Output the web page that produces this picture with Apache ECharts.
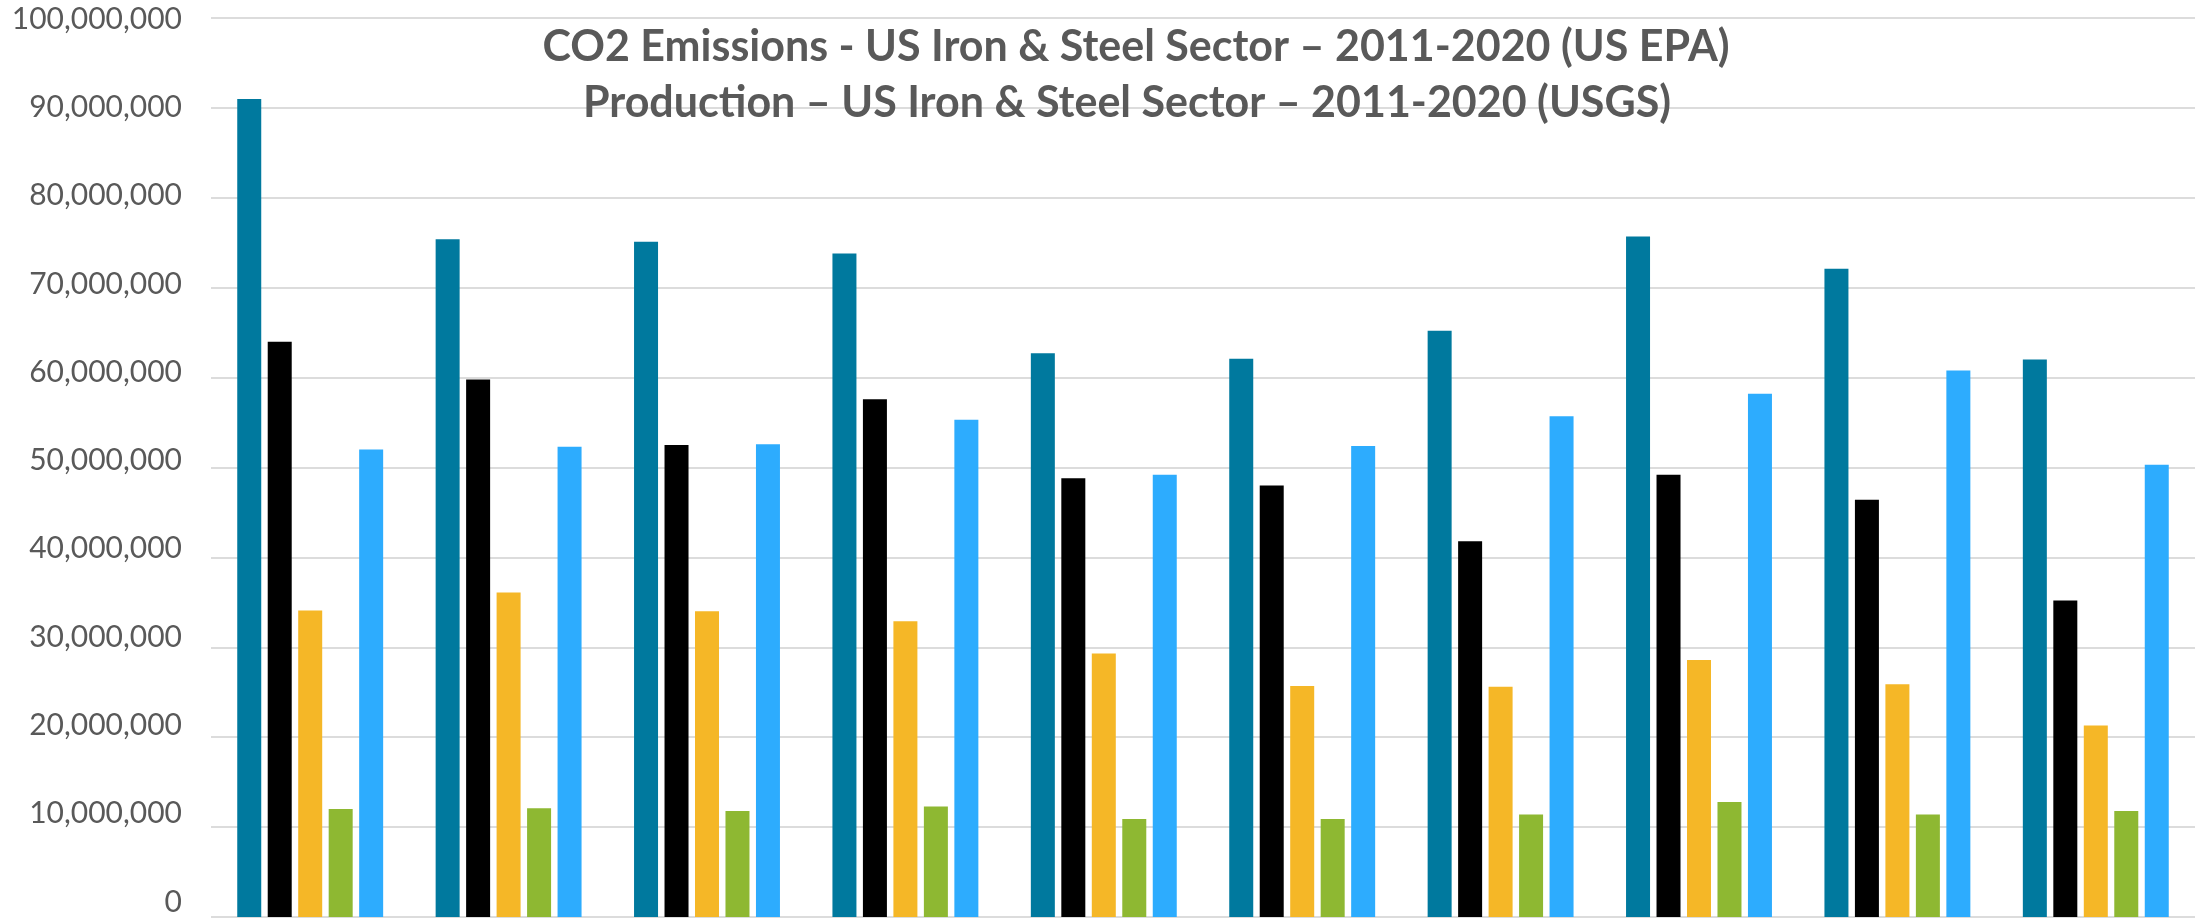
<!DOCTYPE html>
<html>
<head>
<meta charset="UTF-8">
<title>CO2 Emissions - US Iron & Steel</title>
<script src="https://cdn.jsdelivr.net/npm/echarts@6/dist/echarts.min.js"></script>
<style>
  html, body { margin: 0; padding: 0; background: #fff; }
  #chart { width: 2195px; height: 918px; }
</style>
</head>
<body>
<div id="chart"></div>
<script>
// data
var years = ['2011', '2012', '2013', '2014', '2015', '2016', '2017', '2018', '2019', '2020'];
var series1 = [91.0, 75.4, 75.1, 73.8, 62.7, 62.1, 65.2, 75.7, 72.1, 62.0];  // teal
var series2 = [64.0, 59.8, 52.5, 57.6, 48.8, 48.0, 41.8, 49.2, 46.4, 35.2];  // black
var series3 = [34.1, 36.1, 34.0, 32.9, 29.3, 25.7, 25.6, 28.6, 25.9, 21.3];  // orange
var series4 = [12.0, 12.1, 11.8, 12.3, 10.9, 10.9, 11.4, 12.8, 11.4, 11.8];  // green
var series5 = [52.0, 52.3, 52.6, 55.3, 49.2, 52.4, 55.7, 58.2, 60.8, 50.3];  // light blue
var titleLines = [
    'CO2 Emissions - US Iron & Steel Sector \u2013 2011-2020 (US EPA)',
    'Production \u2013 US Iron & Steel Sector \u2013 2011-2020 (USGS)'
];

function mil(arr) {
    return arr.map(function (v) { return Math.round(v * 1000000); });
}

var colors = ['#00799e', '#000000', '#f5b727', '#8eb832', '#2dacfe'];
var names = ['Series 1', 'Series 2', 'Series 3', 'Series 4', 'Series 5'];
var values = [series1, series2, series3, series4, series5];

var chart = echarts.init(document.getElementById('chart'));

var seriesList = [];
for (var i = 0; i < values.length; i++) {
    seriesList.push({
        name: names[i],
        type: 'bar',
        xAxisIndex: 0,
        yAxisIndex: 0,
        barWidth: 24,
        barGap: '27%',
        itemStyle: { color: colors[i] },
        data: mil(values[i])
    });
}

var option = {
    animation: false,
    backgroundColor: '#fff',
    title: [{
        text: titleLines[0],
        left: 1131,
        top: 21,
        textAlign: 'center',
        textStyle: { fontFamily: 'Lato', fontWeight: 'bold', fontSize: 43, color: '#595959' }
    }, {
        text: titleLines[1],
        left: 1122,
        top: 77,
        textAlign: 'center',
        textStyle: { fontFamily: 'Lato', fontWeight: 'bold', fontSize: 43, color: '#595959' }
    }],
    grid: [
        { left: 211, right: 0, top: 18, bottom: 1 },
        // label-only grid, the labels sit a bit off the gridlines in the original
        { left: 211, right: 0, top: 19, bottom: 16 }
    ],
    xAxis: [{
        type: 'category',
        gridIndex: 0,
        data: years,
        axisLine: { show: false },
        axisTick: { show: false },
        axisLabel: { show: false }
    }, {
        type: 'category',
        gridIndex: 1,
        data: years,
        show: false
    }],
    yAxis: [{
        type: 'value',
        gridIndex: 0,
        min: 0,
        max: 100000000,
        interval: 10000000,
        axisLine: { show: false },
        axisTick: { show: false },
        axisLabel: { show: false },
        splitLine: { lineStyle: { color: '#dcdcdc', width: 2 } }
    }, {
        type: 'value',
        gridIndex: 1,
        min: 0,
        max: 100000000,
        interval: 10000000,
        axisLine: { show: false },
        axisTick: { show: false },
        splitLine: { show: false },
        axisLabel: {
            margin: 29,
            fontFamily: 'Lato',
            fontSize: 30,
            color: '#595959',
            formatter: function (v) { return v.toLocaleString('en-US'); }
        }
    }],
    series: seriesList
};

chart.setOption(option);
</script>
</body>
</html>
